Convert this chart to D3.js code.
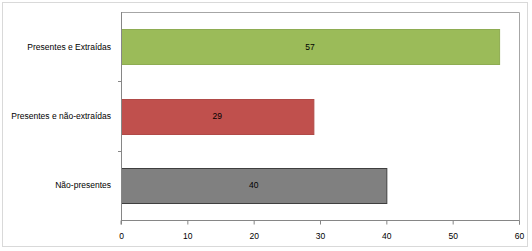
<!DOCTYPE html>
<html>
<head>
<meta charset="utf-8">
<script src="https://cdn.jsdelivr.net/npm/d3@7"></script>
<style>
  body { margin: 0; background: #fff; }
  text { font-family: "Liberation Sans", Arial, sans-serif; font-size: 8.5px; fill: #000; }
</style>
</head>
<body>
<svg width="532" height="251"></svg>
<script>
let categories = ["Presentes e Extraídas", "Presentes e não-extraídas", "Não-presentes"];
let values = [57, 29, 40];
let colors = ["#9bbb59", "#c0504d", "#808080"];
let strokes = ["#8eac52", "#b04a47", "#3f3f3f"];
let xTicks = [0, 10, 20, 30, 40, 50, 60];

let svg = d3.select("svg");

// outer chart border
svg.append("rect")
    .attr("x", 2.5).attr("y", 2.5)
    .attr("width", 525).attr("height", 244)
    .attr("fill", "#fff")
    .attr("stroke", "#d9d9d9");

let plotL = 121, plotR = 519, plotT = 12, plotB = 220;

let x = d3.scaleLinear().domain([0, 60]).range([plotL, plotR]);
let y = d3.scaleBand().domain(categories).range([plotT, plotB]).paddingInner(0.5).paddingOuter(0.25);

// plot area border (top + right)
svg.append("path")
    .attr("d", `M${plotL},${plotT + 0.5}H${plotR + 0.5}V${plotB}`)
    .attr("fill", "none")
    .attr("stroke", "#a6a6a6");

// bars
svg.append("g").selectAll("rect")
    .data(values).enter().append("rect")
        .attr("x", x(0) + 0.5)
        .attr("y", (d, i) => Math.round(y(categories[i])) + 0.5)
        .attr("width", d => x(d) - x(0))
        .attr("height", Math.round(y.bandwidth()))
        .attr("fill", (d, i) => colors[i])
        .attr("stroke", (d, i) => strokes[i])
        .attr("stroke-width", 1);

// data labels
svg.append("g").selectAll("text")
    .data(values).enter().append("text")
        .attr("x", d => (x(d) + x(0)) / 2)
        .attr("y", (d, i) => y(categories[i]) + y.bandwidth() / 2)
        .attr("dy", "0.35em")
        .attr("text-anchor", "middle")
        .text(d => d);

// x axis
let xAxis = svg.append("g")
    .attr("transform", `translate(0,${plotB + 0.5})`)
    .call(d3.axisBottom(x).tickValues(xTicks).tickSize(4).tickPadding(8));
xAxis.select(".domain").attr("stroke", "#868686").attr("d", `M${plotL},4V0H${plotR + 0.5}V4`);
xAxis.selectAll(".tick line").attr("stroke", "#868686");
xAxis.selectAll(".tick text").attr("font-size", null).attr("font-family", null);

// y axis
let yAxis = svg.append("g");
yAxis.append("line")
    .attr("x1", plotL + 0.5).attr("x2", plotL + 0.5)
    .attr("y1", plotT).attr("y2", plotB + 4)
    .attr("stroke", "#868686");
yAxis.selectAll("line.tk")
    .data(categories.slice(1)).enter().append("line")
        .attr("class", "tk")
        .attr("x1", plotL - 3).attr("x2", plotL)
        .attr("y1", d => Math.round(y(d) - y.step() * y.paddingInner() / 2) + 0.5)
        .attr("y2", d => Math.round(y(d) - y.step() * y.paddingInner() / 2) + 0.5)
        .attr("stroke", "#868686");
yAxis.selectAll("text.lbl")
    .data(categories).enter().append("text")
        .attr("class", "lbl")
        .attr("x", plotL - 10)
        .attr("y", d => y(d) + y.bandwidth() / 2)
        .attr("dy", "0.35em")
        .attr("text-anchor", "end")
        .text(d => d);
</script>
</body>
</html>
